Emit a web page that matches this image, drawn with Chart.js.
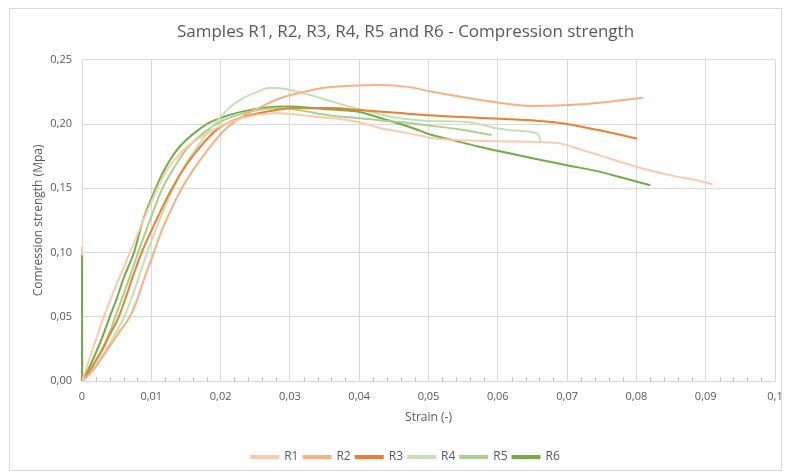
<!DOCTYPE html>
<html>
<head>
<meta charset="utf-8">
<script src="https://cdn.jsdelivr.net/npm/chart.js@4.4.1/dist/chart.umd.min.js"></script>
<style>
  html, body { margin: 0; padding: 0; background: #fff; }
  #wrap { width: 787px; height: 474px; }
</style>
</head>
<body>
<div id="wrap"><canvas id="strengthChart" width="787" height="474"></canvas></div>
<script>
// strain (-) and compression strength (MPa)
const r1Strain = [0, 0.0005, 0.001, 0.002, 0.003, 0.004, 0.005, 0.006, 0.0069, 0.008, 0.009, 0.0103, 0.0113, 0.0127, 0.014, 0.0152, 0.0175, 0.02, 0.0225, 0.025, 0.028, 0.031, 0.034, 0.0372, 0.04, 0.043, 0.047, 0.0507, 0.055, 0.0603, 0.066, 0.069, 0.0715, 0.0747, 0.0805, 0.0855, 0.0892, 0.091];
const r1Stress = [0, 0.008, 0.016, 0.032, 0.048, 0.062, 0.0755, 0.088, 0.1, 0.114, 0.127, 0.143, 0.155, 0.168, 0.176, 0.1825, 0.191, 0.1985, 0.2035, 0.207, 0.2085, 0.2075, 0.2055, 0.204, 0.2015, 0.197, 0.193, 0.189, 0.1875, 0.1866, 0.186, 0.185, 0.181, 0.1757, 0.166, 0.1595, 0.1557, 0.153];

const r2Strain = [0, 0.001, 0.002, 0.0026, 0.004, 0.0055, 0.0069, 0.008, 0.009, 0.0103, 0.0115, 0.013, 0.0144, 0.016, 0.018, 0.0205, 0.023, 0.0257, 0.028, 0.03, 0.0315, 0.0345, 0.0387, 0.043, 0.047, 0.0507, 0.055, 0.0584, 0.0603, 0.0651, 0.072, 0.077, 0.081];
const r2Stress = [0, 0.005, 0.011, 0.016, 0.027, 0.039, 0.05, 0.064, 0.08, 0.099, 0.117, 0.135, 0.15, 0.164, 0.179, 0.195, 0.2055, 0.213, 0.219, 0.2225, 0.2245, 0.228, 0.2298, 0.2305, 0.229, 0.225, 0.221, 0.218, 0.2165, 0.2141, 0.2154, 0.218, 0.2206];

const r3Strain = [0, 0.001, 0.002, 0.003, 0.004, 0.0053, 0.0065, 0.0075, 0.0086, 0.0107, 0.013, 0.015, 0.0167, 0.0185, 0.02, 0.023, 0.027, 0.031, 0.036, 0.04, 0.045, 0.0507, 0.0603, 0.066, 0.069, 0.0747, 0.0801];
const r3Stress = [0, 0.007, 0.016, 0.025, 0.036, 0.05, 0.068, 0.084, 0.1, 0.125, 0.15, 0.168, 0.18, 0.191, 0.198, 0.205, 0.21, 0.2125, 0.2125, 0.211, 0.209, 0.2068, 0.2042, 0.2025, 0.2009, 0.1952, 0.1887];

const r4Strain = [0, 0.001, 0.002, 0.003, 0.004, 0.005, 0.0061, 0.0075, 0.0094, 0.0108, 0.0125, 0.0138, 0.015, 0.017, 0.0185, 0.0199, 0.0214, 0.023, 0.025, 0.0271, 0.029, 0.0315, 0.0343, 0.0358, 0.0387, 0.042, 0.0459, 0.05, 0.0555, 0.0603, 0.063, 0.0658, 0.0662];
const r4Stress = [0, 0.005, 0.012, 0.02, 0.029, 0.039, 0.05, 0.07, 0.1, 0.12, 0.142, 0.157, 0.169, 0.185, 0.196, 0.205, 0.2135, 0.2195, 0.2245, 0.2283, 0.2278, 0.2248, 0.2205, 0.218, 0.2135, 0.209, 0.2045, 0.2025, 0.2016, 0.1964, 0.1948, 0.1925, 0.186];

const r5Strain = [0, 0.001, 0.002, 0.003, 0.004, 0.0048, 0.0065, 0.0081, 0.0098, 0.0116, 0.013, 0.015, 0.0175, 0.02, 0.023, 0.026, 0.029, 0.0315, 0.0358, 0.04, 0.0459, 0.05, 0.055, 0.0591];
const r5Stress = [0, 0.007, 0.016, 0.026, 0.038, 0.05, 0.075, 0.1, 0.125, 0.15, 0.1635, 0.18, 0.193, 0.202, 0.208, 0.2115, 0.2125, 0.2107, 0.2068, 0.2045, 0.2016, 0.199, 0.1955, 0.1915];

const r6Strain = [0, 0.001, 0.002, 0.003, 0.004, 0.005, 0.006, 0.0075, 0.0088, 0.0104, 0.0115, 0.0127, 0.0137, 0.015, 0.0168, 0.0185, 0.0204, 0.0218, 0.0238, 0.0266, 0.03, 0.0315, 0.035, 0.0401, 0.0435, 0.0473, 0.0505, 0.0536, 0.057, 0.0603, 0.065, 0.07, 0.0745, 0.078, 0.082];
const r6Stress = [0, 0.01, 0.022, 0.035, 0.05, 0.064, 0.08, 0.1, 0.125, 0.147, 0.1605, 0.172, 0.18, 0.1875, 0.1955, 0.2015, 0.2055, 0.208, 0.2105, 0.213, 0.2138, 0.2133, 0.2118, 0.2095, 0.204, 0.1978, 0.1915, 0.1874, 0.1828, 0.1788, 0.1735, 0.168, 0.1632, 0.1582, 0.1524];

// first readings of R6 and R1 jump straight up at zero strain
const r6SpikeStrain = [0, 0];
const r6SpikeStress = [0.098, 0];
const r1SpikeStrain = [0, 0];
const r1SpikeStress = [0.105, 0];

const seriesNames = ['R1', 'R2', 'R3', 'R4', 'R5', 'R6'];
const seriesColors = ['#F8CBAD', '#F4B183', '#ED7D31', '#C5E0B4', '#A9D18E', '#70AD47'];
const strainSets = [r1Strain, r2Strain, r3Strain, r4Strain, r5Strain, r6Strain];
const stressSets = [r1Stress, r2Stress, r3Stress, r4Stress, r5Stress, r6Stress];

const FONT = "'Open Sans', sans-serif";
const TEXT_GREY = '#595959';
const GRID_GREY = '#d9d9d9';

function toPoints(xs, ys) {
    return xs.map((x, j) => ({ x: x, y: ys[j] }));
}

const datasets = seriesNames.map((name, i) => ({
    label: name,
    data: toPoints(strainSets[i], stressSets[i]),
    borderColor: seriesColors[i],
    backgroundColor: seriesColors[i],
    borderWidth: 2,
    pointRadius: 0,
    cubicInterpolationMode: 'monotone'
}));

// the green spike has to sit on top of the peach one, so it goes first
datasets.push({
    label: 'R6 start',
    data: toPoints(r6SpikeStrain, r6SpikeStress),
    borderColor: seriesColors[5], backgroundColor: seriesColors[5],
    borderWidth: 2, pointRadius: 0, clip: false
});
datasets.push({
    label: 'R1 start',
    data: toPoints(r1SpikeStrain, r1SpikeStress),
    borderColor: seriesColors[0], backgroundColor: seriesColors[0],
    borderWidth: 2, pointRadius: 0, clip: false
});

// light frame around the whole chart and small minor tick marks on the strain axis
const framePlugin = {
    id: 'frame',
    beforeDraw(chart) {
        const ctx = chart.ctx;
        ctx.save();
        ctx.fillStyle = '#fff';
        ctx.fillRect(0, 0, chart.width, chart.height);
        ctx.strokeStyle = GRID_GREY;
        ctx.lineWidth = 1;
        ctx.strokeRect(9.5, 8.5, 772, 462);
        ctx.restore();
    },
    afterDraw(chart) {
        const ctx = chart.ctx;
        const xs = chart.scales.x;
        const bottom = chart.chartArea.bottom;
        ctx.save();
        ctx.strokeStyle = '#bfbfbf';
        ctx.lineWidth = 1;
        for (let k = 1; k < 50; k++) {
            if (k % 5 === 0) continue;
            const px = Math.round(xs.getPixelForValue(k * 0.002)) + 0.5;
            ctx.beginPath();
            ctx.moveTo(px, bottom);
            ctx.lineTo(px, bottom - 4);
            ctx.stroke();
        }
        ctx.restore();
    }
};

new Chart(document.getElementById('strengthChart'), {
    type: 'line',
    data: { datasets: datasets },
    options: {
        responsive: false,
        animation: false,
        layout: { padding: { left: 36, right: 12, top: 0, bottom: 1 } },
        scales: {
            x: {
                type: 'linear',
                min: 0,
                max: 0.1,
                afterFit: s => {
                    s.height = 65;
                    s.paddingLeft = 0;
                    s.paddingRight = 0;
                },
                ticks: {
                    stepSize: 0.01,
                    padding: 9,
                    color: TEXT_GREY,
                    font: { family: FONT, size: 11 },
                    callback: v => v === 0 ? '0' : String(Number(v.toFixed(2))).replace('.', ',')
                },
                grid: { color: GRID_GREY, drawTicks: false },
                border: { color: GRID_GREY },
                title: {
                    display: true,
                    text: 'Strain (-)',
                    color: TEXT_GREY,
                    font: { family: FONT, size: 12 },
                    padding: { top: 0, bottom: 21 }
                }
            },
            y: {
                type: 'linear',
                min: 0,
                max: 0.25,
                afterFit: s => { s.width = 46; },
                ticks: {
                    stepSize: 0.05,
                    padding: 10,
                    color: TEXT_GREY,
                    font: { family: FONT, size: 11 },
                    callback: v => v.toFixed(2).replace('.', ',')
                },
                grid: { color: GRID_GREY, drawTicks: false },
                border: { color: GRID_GREY },
                title: {
                    display: true,
                    text: 'Comression strength (Mpa)',
                    color: TEXT_GREY,
                    font: { family: FONT, size: 12 },
                    padding: { top: -5, bottom: 0 }
                }
            }
        },
        plugins: {
            title: {
                display: true,
                text: 'Samples R1, R2, R3, R4, R5 and R6 - Compression strength',
                color: TEXT_GREY,
                font: { family: FONT, size: 17, weight: 'normal' },
                padding: { top: 21.5, bottom: 18 }
            },
            legend: {
                display: true,
                position: 'bottom',
                labels: {
                    boxWidth: 27,
                    boxHeight: 2,
                    padding: 5,
                    color: TEXT_GREY,
                    font: { family: FONT, size: 12 },
                    filter: item => item.datasetIndex < seriesNames.length
                }
            },
            tooltip: { enabled: false }
        }
    },
    plugins: [framePlugin]
});
</script>
</body>
</html>
